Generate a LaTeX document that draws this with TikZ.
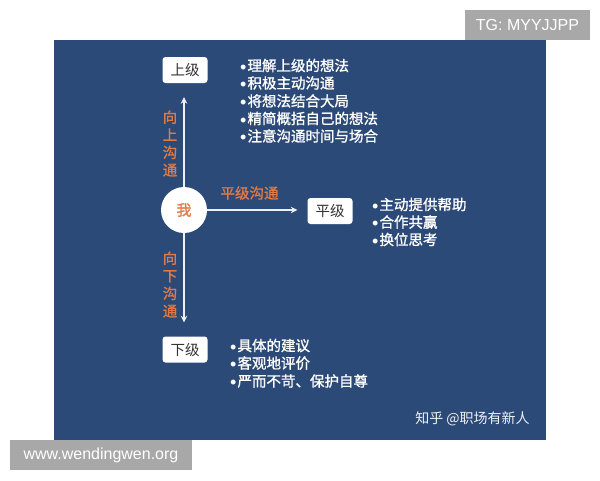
\documentclass[tikz,border=0pt]{standalone}
\usepackage{fontspec}
\setmainfont{Liberation Sans}
\newfontfamily\cjk{Noto Sans CJK SC}
\newfontfamily\cjkb[FakeBold=1.2]{Noto Sans CJK SC}
\usetikzlibrary{arrows.meta,calc}
\definecolor{panel}{HTML}{2C4A78}
\definecolor{orangetxt}{HTML}{E07A45}
\definecolor{boxtxt}{HTML}{333333}
\definecolor{wmgray}{HTML}{A8A8A8}
\newcommand{\bdot}{\raisebox{-2.2pt}{\rmfamily\fontsize{18}{17}\selectfont•}\hspace{1pt}}
\begin{document}
\begin{tikzpicture}[x=1pt,y=-1pt,
  lvlbox/.style={draw=none,fill=white,rounded corners=3pt,minimum width=45pt,minimum height=26pt,inner sep=0pt,text=boxtxt,font=\cjk\fontsize{14.5}{17}\selectfont},
  mecircle/.style={circle,fill=white,minimum size=46pt,inner sep=0pt,text=orangetxt,font=\cjkb\fontsize{15}{18}\selectfont},
  bul/.style={anchor=west,inner sep=0pt,text=white,font=\cjkb\fontsize{14.5}{17}\selectfont},
  vlabel/.style={inner sep=0pt,align=center,text=orangetxt,font=\cjkb\fontsize{14.5}{17.6}\selectfont},
  hlabel/.style={inner sep=0pt,text=orangetxt,font=\cjkb\fontsize{14.5}{17}\selectfont},
  arr/.style={draw=white!92!panel,line width=1.5pt,-{Stealth[length=6.5pt,width=6.5pt]}},
  wm/.style={fill=wmgray,text=white,inner sep=0pt,font=\fontsize{16}{18}\selectfont}]
\useasboundingbox (0,0) rectangle (600,480);
\fill[white] (0,0) rectangle (600,480);
\fill[panel] (54,40) rectangle (546,440);
% nodes
\node[mecircle] (me) at (184,210) {我};
\node[lvlbox] (up) at (185,70) {上级};
\node[lvlbox] (peer) at (330,211) {平级};
\node[lvlbox] (down) at (185,349.5) {下级};
% arrows
\draw[arr,shorten >=14pt] (me.north) -- (me.north |- up.south);
\draw[arr,shorten >=10pt] (me.east) -- (me.east -| peer.west);
\draw[arr,shorten >=14pt] (me.south) -- (me.south |- down.north);
% arrow labels
\node[vlabel] (uplbl) at (170,143.5) {向\\上\\沟\\通};
\node[vlabel] (downlbl) at (170,284.5) {向\\下\\沟\\通};
\node[hlabel] (peerlbl) at (249.5,193) {平级沟通};
% lists
\node[bul] (u1) at (240,66) {\bdot 理解上级的想法};
\node[bul] (u2) at (240,83.5) {\bdot 积极主动沟通};
\node[bul] (u3) at (240,101.5) {\bdot 将想法结合大局};
\node[bul] (u4) at (240,119) {\bdot 精简概括自己的想法};
\node[bul] (u5) at (240,136.5) {\bdot 注意沟通时间与场合};
\node[bul] (p1) at (372,205) {\bdot 主动提供帮助};
\node[bul] (p2) at (372,222.5) {\bdot 合作共赢};
\node[bul] (p3) at (372,240) {\bdot 换位思考};
\node[bul] (d1) at (230,346) {\bdot 具体的建议};
\node[bul] (d2) at (230,363.5) {\bdot 客观地评价};
\node[bul] (d3) at (230,381.5) {\bdot 严而不苛、保护自尊};
% credit
\node[inner sep=0pt,text=white!92!panel,font=\cjk\fontsize{14}{16}\selectfont] (credit) at (472.5,419) {知乎 @职场有新人};
% watermarks
\node[wm,minimum width=125pt,minimum height=30pt] (tg) at (527.5,25) {TG: MYYJJPP};
\node[wm,minimum width=182pt,minimum height=30pt] (site) at (101,455) {www.wendingwen.org};
\end{tikzpicture}
\end{document}
